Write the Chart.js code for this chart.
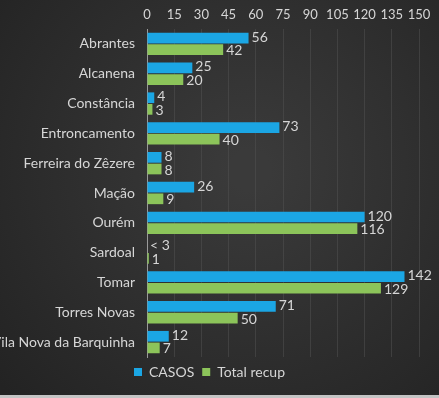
<!DOCTYPE html>
<html>
<head>
<meta charset="utf-8">
<script src="https://cdn.jsdelivr.net/npm/chart.js@4"></script>
<style>
    html, body { margin: 0; padding: 0; background: #2a2a2a; }
    #wrap { width: 439px; height: 398px; }
</style>
</head>
<body>
<div id="wrap"><canvas id="grafico" width="439" height="398"></canvas></div>
<script>
// Datos del gráfico
const concelhos = ['Abrantes', 'Alcanena', 'Constância', 'Entroncamento', 'Ferreira do Zêzere',
    'Mação', 'Ourém', 'Sardoal', 'Tomar', 'Torres Novas', 'Vila Nova da Barquinha'];
const casos = [56, 25, 4, 73, 8, 26, 120, 0, 142, 71, 12];
const totalRecup = [42, 20, 3, 40, 8, 9, 116, 1, 129, 50, 7];
// Etiquetas de CASOS (Sardoal aparece como "< 3")
const etiquetasCasos = ['56', '25', '4', '73', '8', '26', '120', '< 3', '142', '71', '12'];
const ticksX = [0, 15, 30, 45, 60, 75, 90, 105, 120, 135, 150];

const fuente = 'Lato, sans-serif';
const colorTexto = '#d6d6d6';

// Fondo oscuro con degradado
const fondoPlugin = {
    id: 'fondo',
    beforeDraw(chart) {
        const ctx = chart.ctx;
        const w = chart.width, h = chart.height;
        ctx.save();
        const g = ctx.createRadialGradient(250, 170, 20, 250, 170, 330);
        g.addColorStop(0, '#3a3a3a');
        g.addColorStop(1, '#232323');
        ctx.fillStyle = g;
        ctx.fillRect(0, 0, w, h);
        ctx.fillStyle = '#c4c4c4';
        ctx.fillRect(0, h - 3, w, 3);
        ctx.restore();
    }
};

// Etiquetas de valores al final de cada barra
const etiquetasPlugin = {
    id: 'etiquetas',
    afterDatasetsDraw(chart) {
        const ctx = chart.ctx;
        ctx.save();
        ctx.font = '14px ' + fuente;
        ctx.fillStyle = colorTexto;
        ctx.textBaseline = 'middle';
        ctx.textAlign = 'left';
        chart.data.datasets.forEach((ds, i) => {
            const meta = chart.getDatasetMeta(i);
            meta.data.forEach((bar, j) => {
                const texto = i === 0 ? etiquetasCasos[j] : String(ds.data[j]);
                const dy = i === 0 ? -1 : 1;
                ctx.fillText(texto, bar.x + 3, bar.y + dy);
            });
        });
        ctx.restore();
    }
};

const ctx = document.getElementById('grafico').getContext('2d');
new Chart(ctx, {
    type: 'bar',
    data: {
        labels: concelhos,
        datasets: [
            { label: 'CASOS', data: casos, backgroundColor: '#1ba6e4' },
            { label: 'Total recup', data: totalRecup, backgroundColor: '#8cc45a' }
        ]
    },
    options: {
        indexAxis: 'y',
        responsive: false,
        animation: false,
        categoryPercentage: 0.78,
        barPercentage: 0.92,
        layout: { padding: { left: 0, right: 20, top: 4, bottom: 9 } },
        scales: {
            x: {
                position: 'top',
                min: 0,
                max: 150,
                afterBuildTicks(scale) {
                    scale.ticks = ticksX.map(v => ({ value: v }));
                },
                afterFit(scale) { scale.height = 25; },
                grid: { color: 'rgba(80,80,80,0.55)', drawTicks: false },
                border: { display: false },
                ticks: { color: colorTexto, font: { family: fuente, size: 13 }, padding: 6, maxRotation: 0, autoSkip: false }
            },
            y: {
                afterFit(scale) { scale.width = 147; },
                grid: { display: false },
                border: { display: true, color: '#9a9a9a', width: 1 },
                ticks: { color: colorTexto, font: { family: fuente, size: 14 }, padding: 4 }
            }
        },
        plugins: {
            legend: {
                position: 'bottom',
                labels: {
                    color: colorTexto,
                    font: { family: fuente, size: 14 },
                    boxWidth: 8,
                    boxHeight: 8,
                    padding: 8
                }
            },
            tooltip: { enabled: false }
        }
    },
    plugins: [fondoPlugin, etiquetasPlugin]
});
</script>
</body>
</html>
